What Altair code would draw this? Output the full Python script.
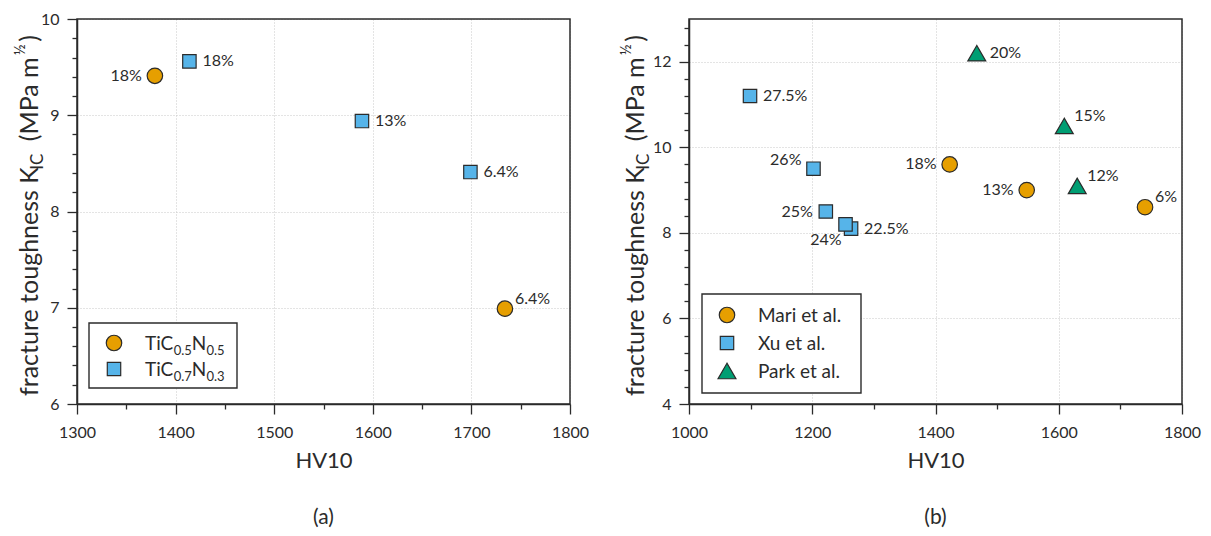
import altair as alt
import pandas as pd

SANS = "Lato"
INK = "#2b2b2b"
GRID = "#c8c8c8"
ORANGE, SKY, GREEN = "#E69F00", "#56B4E9", "#009E73"
W, H = 493, 385

# ---- panel (a): hardness vs. toughness for two carbonitride grades
a_series = ["TiC0.5N0.5", "TiC0.5N0.5", "TiC0.7N0.3", "TiC0.7N0.3", "TiC0.7N0.3"]
a_hv = [1379, 1734, 1414, 1589, 1699]
a_kic = [9.41, 6.99, 9.56, 8.94, 8.41]
a_label = ["18%", "6.4%", "18%", "13%", "6.4%"]
a_side = ["left", "upright", "right", "right", "right"]

# ---- panel (b): literature data
b_series = ["Mari et al."] * 3 + ["Xu et al."] * 5 + ["Park et al."] * 3
b_hv = [1423, 1548, 1740, 1099, 1202, 1222, 1263, 1254, 1467, 1609, 1630]
b_kic = [9.6, 9.0, 8.6, 11.2, 9.5, 8.5, 8.1, 8.2, 12.2, 10.5, 9.1]
b_label = ["18%", "13%", "6%", "27.5%", "26%", "25%", "22.5%", "24%", "20%", "15%", "12%"]
b_side = ["left", "left", "upright", "right", "upleft", "left", "right", "downleft",
          "right", "upright", "upright"]

# axis tick positions (majors get labels, the rest are minor ticks)
a_xticks = [1300, 1350, 1400, 1450, 1500, 1550, 1600, 1650, 1700, 1750, 1800]
a_yticks = [round(6 + 0.2 * i, 1) for i in range(21)]
b_xticks = [1000, 1100, 1200, 1300, 1400, 1500, 1600, 1700, 1800]
b_yticks = [round(4 + 0.4 * i, 1) for i in range(23)]

# approximate Lato advance widths (em) used to butt text runs together
LATO_EM = {
    " ": 0.24, "a": 0.51, "c": 0.46, "e": 0.52, "f": 0.32, "g": 0.50, "h": 0.56,
    "i": 0.25, "m": 0.84, "n": 0.56, "o": 0.56, "r": 0.37, "s": 0.42, "t": 0.35,
    "u": 0.56, "C": 0.68, "I": 0.29, "K": 0.66, "M": 0.90, "N": 0.77, "P": 0.60,
    "T": 0.58, ".": 0.23, "(": 0.31, ")": 0.31, "½": 0.90,
}


def text_width(s, size):
    return sum(LATO_EM.get(ch, 0.58) for ch in s) * size


def one_row():
    return pd.DataFrame({"k": [0]})


def vertical_runs(runs, x0, y0):
    """Rotated text read bottom-to-top; each run is (text, size, shift, gap before)."""
    layers, y = [], y0
    for txt, size, shift, gap in runs:
        y -= gap
        layers.append(
            alt.Chart(one_row()).mark_text(
                text=txt, font=SANS, fontSize=size, angle=270, align="left",
                baseline="alphabetic", color=INK,
            ).encode(x=alt.value(x0 + shift), y=alt.value(y))
        )
        y -= text_width(txt, size)
    return layers


def horizontal_runs(runs, x0, y0):
    layers, x = [], x0
    for txt, size, shift in runs:
        layers.append(
            alt.Chart(one_row()).mark_text(
                text=txt, font=SANS, fontSize=size, align="left",
                baseline="alphabetic", color=INK,
            ).encode(x=alt.value(x), y=alt.value(y0 + shift))
        )
        x += text_width(txt, size)
    return layers


def ticked_axis(values, major_test, pad, title=None):
    minor = f"!({major_test})"
    return alt.Axis(
        values=values,
        labelExpr=f"({major_test}) ? format(datum.value, 'd') : ''",
        labelPadding=pad,
        labelFlush=False,
        tickSize={"condition": {"test": minor, "value": 5}, "value": 10},
        gridOpacity={"condition": {"test": minor, "value": 0}, "value": 1},
        grid=True,
        title=title,
    )


SIDES = {
    "right": dict(align="left", dx=13, dy=0),
    "left": dict(align="right", dx=-13, dy=0),
    "upright": dict(align="left", dx=10, dy=-10),
    "upleft": dict(align="right", dx=-12, dy=-9),
    "downleft": dict(align="right", dx=-4, dy=16),
}

MARK = {"circle": 240, "square": 180, "triangle-up": 320}

# y-axis title: K with subscript IC and a superscript ½ on the unit
Y_TITLE = [
    ("fracture toughness K", 25, 0, 0),
    ("IC", 17, 5, 0),
    ("(MPa m", 25, 0, 12),
    ("½", 15, -13, 1),
    (")", 25, 0, 0),
]


def panel(df, xdom, ydom, xaxis, yaxis, domain, shapes, fills, legend_spec, caption,
          title_x):
    x_enc = alt.X("hv:Q", title="HV10", scale=alt.Scale(domain=xdom, nice=False, zero=False),
                  axis=xaxis)
    y_enc = alt.Y("k:Q", title=None, scale=alt.Scale(domain=ydom, nice=False, zero=False),
                  axis=yaxis)
    base = alt.Chart(df)

    # frame round the plot area
    layers = [
        alt.Chart(one_row()).mark_rect(fillOpacity=0, stroke=INK, strokeWidth=1.5).encode(
            x=alt.value(0), x2=alt.value(W), y=alt.value(0), y2=alt.value(H))
    ]
    # one point layer per series so each keeps its own symbol, colour and size
    for name, shape, fill in zip(domain, shapes, fills):
        layers.append(
            base.transform_filter(alt.datum.series == name).mark_point(
                shape=shape, filled=True, fill=fill, fillOpacity=1, stroke=INK,
                strokeWidth=1.2, size=MARK[shape],
            ).encode(x=x_enc, y=y_enc)
        )
    for side, kw in SIDES.items():
        if side in set(df["side"]):
            layers.append(
                base.transform_filter(alt.datum.side == side).mark_text(
                    font=SANS, fontSize=16, baseline="middle", color=INK, **kw
                ).encode(x=x_enc, y=y_enc, text="lab:N")
            )

    # legend drawn inside the frame so the subscripts can be typeset
    (bx0, by0, bx1, by1), rows = legend_spec
    layers.append(
        alt.Chart(one_row()).mark_rect(fill="white", stroke=INK, strokeWidth=1.4).encode(
            x=alt.value(bx0), x2=alt.value(bx1), y=alt.value(by0), y2=alt.value(by1))
    )
    for (sym_y, shape, fill, runs) in rows:
        layers.append(
            alt.Chart(one_row()).mark_point(
                shape=shape, filled=True, fill=fill, fillOpacity=1, stroke=INK,
                strokeWidth=1.2, size=MARK[shape],
            ).encode(x=alt.value(bx0 + 25), y=alt.value(sym_y))
        )
        layers += horizontal_runs(runs, bx0 + 56, sym_y + 7)

    layers += vertical_runs(Y_TITLE, title_x, 377)
    layers.append(
        alt.Chart(one_row()).mark_text(
            text=caption, font=SANS, fontSize=21, color=INK, baseline="middle", align="center"
        ).encode(x=alt.value(W / 2), y=alt.value(H + 114))
    )
    return alt.layer(*layers).properties(width=W, height=H)


df_a = pd.DataFrame({"series": a_series, "hv": a_hv, "k": a_kic, "lab": a_label, "side": a_side})
df_b = pd.DataFrame({"series": b_series, "hv": b_hv, "k": b_kic, "lab": b_label, "side": b_side})

LEG, SUB = 19, 13
chart_a = panel(
    df_a, [1300, 1800], [6, 10],
    ticked_axis(a_xticks, "datum.value % 100 === 0", 10, "HV10"),
    ticked_axis(a_yticks, "abs(datum.value - round(datum.value)) < 0.001", 8),
    ["TiC0.5N0.5", "TiC0.7N0.3"], ["circle", "square"], [ORANGE, SKY],
    ((12, 304, 160, 369), [
        (324, "circle", ORANGE, [("TiC", LEG, 0), ("0.5", SUB, 5), ("N", LEG, 0), ("0.5", SUB, 5)]),
        (350, "square", SKY, [("TiC", LEG, 0), ("0.7", SUB, 5), ("N", LEG, 0), ("0.3", SUB, 5)]),
    ]),
    "(a)", -39,
)

chart_b = panel(
    df_b, [1000, 1800], [4, 13],
    ticked_axis(b_xticks, "datum.value % 200 === 0", 10, "HV10"),
    ticked_axis(b_yticks, "abs(datum.value / 2 - round(datum.value / 2)) < 0.001", 8),
    ["Mari et al.", "Xu et al.", "Park et al."], ["circle", "square", "triangle-up"],
    [ORANGE, SKY, GREEN],
    ((13, 275, 172, 374), [
        (296, "circle", ORANGE, [("Mari et al.", LEG, 0)]),
        (324, "square", SKY, [("Xu et al.", LEG, 0)]),
        (352, "triangle-up", GREEN, [("Park et al.", LEG, 0)]),
    ]),
    "(b)", -45,
)

chart = (
    alt.hconcat(chart_a, chart_b, spacing=119, bounds="flush")
    .properties(padding={"left": 13, "top": 11, "right": 5, "bottom": 5})
    .configure_view(stroke=None)
    .configure_axis(
        labelFont=SANS, labelFontSize=16, labelColor=INK,
        titleFont=SANS, titleFontSize=22, titleFontWeight="normal", titleColor=INK,
        titlePadding=10,
        domainColor=INK, domainWidth=1.5, tickColor=INK, tickWidth=1.3,
        gridColor=GRID, gridDash=[1, 2], gridWidth=1,
    )
)

chart.save("out.html", embed_options={"renderer": "svg", "actions": False})
